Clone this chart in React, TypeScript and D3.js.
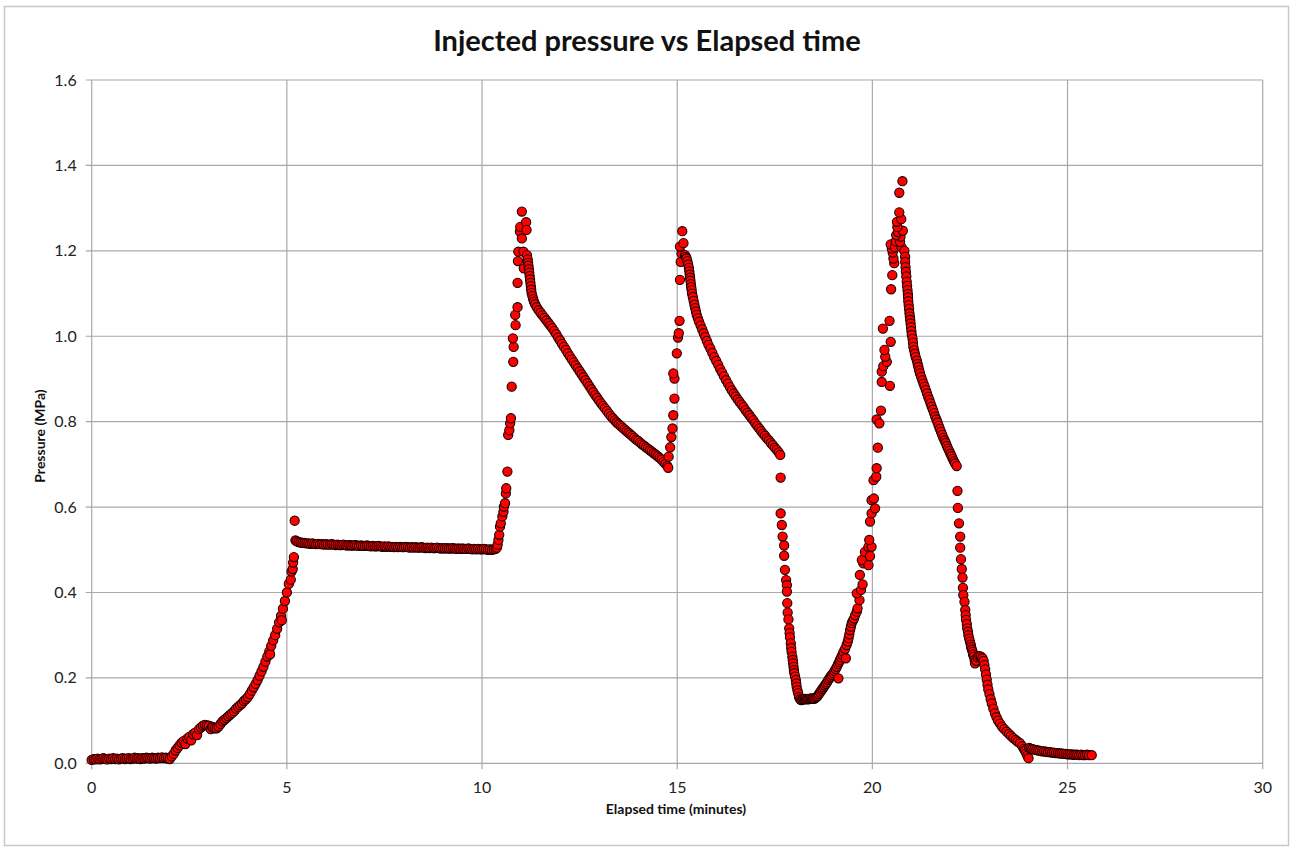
import React from 'react';
import * as d3 from 'd3';

type Pt = [number, number];

const titleText = 'Injected pressure vs Elapsed time';
const xAxisTitle = 'Elapsed time (minutes)';
const yAxisTitle = 'Pressure (MPa)';
const xTicks = [0, 5, 10, 15, 20, 25, 30];
const yTicks = [0, 0.2, 0.4, 0.6, 0.8, 1.0, 1.2, 1.4, 1.6];

const baseline: Pt[] = [
  [0.00,0.008],[0.05,0.010],[0.10,0.009],[0.15,0.011],[0.20,0.009],[0.25,0.010],[0.30,0.012],[0.35,0.010],[0.40,0.009],[0.45,0.011],
  [0.50,0.010],[0.55,0.012],[0.60,0.010],[0.65,0.011],[0.70,0.009],[0.75,0.011],[0.80,0.012],[0.85,0.010],[0.90,0.011],[0.95,0.012],
  [1.00,0.010],[1.05,0.011],[1.10,0.013],[1.15,0.011],[1.20,0.012],[1.25,0.010],[1.30,0.012],[1.35,0.011],[1.40,0.013],[1.45,0.012],
  [1.50,0.011],[1.55,0.013],[1.60,0.012],[1.65,0.011],[1.70,0.013],[1.75,0.012],[1.80,0.014],[1.85,0.012],[1.90,0.013],[1.95,0.011],
];

const ramp: Pt[] = [
  [2.00,0.010],[2.05,0.016],[2.10,0.022],[2.15,0.030],[2.20,0.036],[2.25,0.042],[2.30,0.048],[2.35,0.052],[2.40,0.045],[2.45,0.058],
  [2.50,0.062],[2.55,0.054],[2.60,0.068],[2.65,0.072],[2.70,0.066],[2.75,0.080],[2.80,0.084],[2.85,0.088],[2.90,0.090],[2.95,0.089],
  [3.00,0.088],[3.05,0.080],[3.08,0.086],[3.10,0.084],[3.15,0.082],[3.20,0.082],[3.25,0.086],[3.30,0.092],[3.35,0.098],[3.40,0.102],
  [3.45,0.106],[3.50,0.110],[3.55,0.114],[3.60,0.118],[3.65,0.122],[3.70,0.128],[3.75,0.132],[3.80,0.136],[3.85,0.140],[3.90,0.146],
  [3.95,0.150],[4.00,0.155],[4.05,0.162],[4.10,0.170],[4.15,0.178],[4.20,0.186],[4.25,0.195],[4.30,0.205],[4.35,0.215],[4.40,0.226],
  [4.45,0.238],[4.50,0.250],[4.55,0.262],[4.57,0.255],[4.60,0.275],[4.65,0.288],[4.70,0.300],[4.75,0.315],[4.80,0.330],[4.85,0.345],
  [4.87,0.335],[4.90,0.362],[4.95,0.380],[5.00,0.400],[5.05,0.420],[5.10,0.430],[5.12,0.449],[5.15,0.455],[5.16,0.470],[5.18,0.483],
  [5.20,0.568],
];

const plateau: Pt[] = [
  [5.22,0.522],[5.25,0.520],[5.30,0.518],[5.35,0.517],[5.40,0.516],[5.45,0.516],[5.50,0.515],[5.55,0.515],[5.60,0.514],[5.65,0.515],
  [5.70,0.514],[5.75,0.513],[5.80,0.514],[5.85,0.513],[5.90,0.513],[5.95,0.512],[6.00,0.513],[6.05,0.512],[6.10,0.512],[6.15,0.513],
  [6.20,0.512],[6.25,0.511],[6.30,0.512],[6.35,0.511],[6.40,0.511],[6.45,0.512],[6.50,0.511],[6.55,0.510],[6.60,0.511],[6.65,0.510],
  [6.70,0.510],[6.75,0.511],[6.80,0.510],[6.85,0.509],[6.90,0.510],[6.95,0.509],[7.00,0.509],[7.05,0.510],[7.10,0.509],[7.15,0.508],
  [7.20,0.509],[7.25,0.508],[7.30,0.508],[7.35,0.509],[7.40,0.508],[7.45,0.507],[7.50,0.508],[7.55,0.507],[7.60,0.508],[7.65,0.507],
  [7.70,0.507],[7.75,0.506],[7.80,0.507],[7.85,0.506],[7.90,0.507],[7.95,0.506],[8.00,0.506],[8.05,0.507],[8.10,0.506],[8.15,0.505],
  [8.20,0.506],[8.25,0.505],[8.30,0.506],[8.35,0.505],[8.40,0.505],[8.45,0.506],[8.50,0.505],[8.55,0.504],[8.60,0.505],[8.65,0.504],
  [8.70,0.505],[8.75,0.504],[8.80,0.504],[8.85,0.505],[8.90,0.504],[8.95,0.503],[9.00,0.504],[9.05,0.503],[9.10,0.504],[9.15,0.503],
  [9.20,0.503],[9.25,0.504],[9.30,0.503],[9.35,0.502],[9.40,0.503],[9.45,0.502],[9.50,0.503],[9.55,0.502],[9.60,0.502],[9.65,0.503],
  [9.70,0.502],[9.75,0.501],[9.80,0.502],[9.85,0.501],[9.90,0.502],[9.95,0.501],[10.00,0.501],[10.05,0.502],[10.10,0.501],[10.15,0.500],
  [10.20,0.501],[10.25,0.500],[10.30,0.501],
];

const rise1: Pt[] = [
  [10.35,0.502],[10.38,0.505],[10.40,0.512],[10.42,0.523],[10.44,0.535],[10.46,0.554],[10.48,0.562],[10.52,0.578],[10.55,0.589],[10.56,0.601],
  [10.59,0.609],[10.61,0.632],[10.62,0.644],[10.65,0.683],[10.67,0.769],[10.70,0.780],[10.72,0.796],[10.74,0.808],[10.76,0.882],[10.80,0.940],
  [10.81,0.975],[10.79,0.995],[10.86,1.026],[10.85,1.050],[10.91,1.068],[10.91,1.125],[10.92,1.176],[10.93,1.198],[10.97,1.245],[10.98,1.256],
  [11.02,1.229],[11.02,1.292],[11.06,1.198],[11.07,1.159],[11.13,1.267],[11.14,1.249],[11.15,1.190],
];

const decay1: Pt[] = [
  [11.17,1.180],[11.18,1.172],[11.19,1.165],[11.20,1.157],[11.21,1.149],[11.22,1.141],[11.23,1.133],[11.24,1.125],[11.25,1.117],[11.26,1.109],
  [11.27,1.101],[11.29,1.094],[11.31,1.087],[11.33,1.081],[11.36,1.075],[11.40,1.068],[11.45,1.061],[11.50,1.055],[11.55,1.049],[11.60,1.043],
  [11.65,1.037],[11.70,1.031],[11.75,1.025],[11.80,1.019],[11.85,1.012],[11.90,1.005],[11.95,0.997],[12.00,0.990],[12.05,0.982],[12.10,0.975],
  [12.15,0.968],[12.20,0.960],[12.25,0.953],[12.30,0.946],[12.35,0.939],[12.40,0.932],[12.45,0.925],[12.50,0.918],[12.55,0.911],[12.60,0.904],
  [12.65,0.897],[12.70,0.890],[12.75,0.883],[12.80,0.876],[12.85,0.869],[12.90,0.862],[12.95,0.856],[13.00,0.849],[13.05,0.843],[13.10,0.837],
  [13.15,0.831],[13.20,0.825],[13.25,0.819],[13.30,0.813],[13.35,0.808],[13.40,0.803],[13.45,0.798],[13.50,0.794],[13.55,0.790],[13.60,0.786],
  [13.65,0.782],[13.70,0.778],[13.75,0.774],[13.80,0.770],[13.85,0.766],[13.90,0.762],[13.95,0.758],[14.00,0.755],[14.05,0.751],[14.10,0.747],
  [14.15,0.744],[14.20,0.740],[14.25,0.737],[14.30,0.733],[14.35,0.730],[14.40,0.726],[14.45,0.723],[14.50,0.719],[14.55,0.715],[14.60,0.711],
  [14.65,0.706],[14.70,0.701],[14.75,0.696],[14.77,0.692],
];

const rise2: Pt[] = [
  [14.78,0.718],[14.82,0.740],[14.85,0.764],[14.88,0.784],[14.90,0.815],[14.93,0.854],[14.93,0.901],[14.90,0.913],[14.99,0.960],[15.02,0.997],
  [15.04,1.007],[15.06,1.036],[15.07,1.132],[15.09,1.174],[15.11,1.194],[15.07,1.210],[15.16,1.218],[15.13,1.246],
];

const decay2: Pt[] = [
  [15.20,1.190],[15.22,1.186],[15.24,1.182],[15.26,1.176],[15.28,1.168],[15.30,1.160],[15.31,1.152],[15.32,1.144],[15.33,1.137],[15.34,1.130],
  [15.35,1.122],[15.36,1.115],[15.37,1.108],[15.38,1.100],[15.40,1.092],[15.42,1.083],[15.44,1.074],[15.46,1.066],[15.48,1.058],[15.50,1.050],
  [15.53,1.042],[15.56,1.034],[15.60,1.025],[15.64,1.016],[15.68,1.007],[15.72,0.998],[15.76,0.989],[15.80,0.980],[15.85,0.971],[15.90,0.961],
  [15.95,0.951],[16.00,0.942],[16.05,0.933],[16.10,0.923],[16.15,0.915],[16.20,0.906],[16.25,0.897],[16.30,0.889],[16.35,0.881],[16.40,0.873],
  [16.45,0.866],[16.50,0.859],[16.55,0.852],[16.60,0.846],[16.65,0.840],[16.70,0.834],[16.75,0.827],[16.80,0.821],[16.85,0.815],[16.90,0.809],
  [16.95,0.803],[17.00,0.796],[17.05,0.790],[17.10,0.784],[17.15,0.778],[17.20,0.772],[17.25,0.767],[17.30,0.761],[17.35,0.756],[17.40,0.750],
  [17.45,0.745],[17.50,0.739],[17.55,0.734],[17.60,0.728],[17.64,0.722],
];

const trough: Pt[] = [
  [17.65,0.669],[17.65,0.585],[17.68,0.558],[17.70,0.531],[17.74,0.510],[17.74,0.486],[17.76,0.453],[17.79,0.429],[17.81,0.417],[17.81,0.402],
  [17.82,0.375],[17.83,0.353],[17.85,0.337],[17.87,0.316],[17.88,0.305],[17.89,0.295],[17.91,0.281],[17.92,0.270],[17.93,0.261],[17.95,0.250],
  [17.96,0.242],[17.97,0.234],[17.98,0.226],[17.99,0.218],[18.00,0.211],[18.02,0.203],[18.04,0.195],[18.05,0.187],[18.06,0.179],[18.08,0.171],
  [18.10,0.164],[18.12,0.155],[18.15,0.150],[18.18,0.148],[18.21,0.149],[18.24,0.150],[18.27,0.151],[18.30,0.150],[18.33,0.151],[18.36,0.150],
  [18.39,0.151],[18.42,0.152],[18.45,0.151],[18.48,0.152],[18.51,0.151],[18.54,0.153],[18.57,0.155],[18.60,0.158],[18.63,0.162],[18.66,0.166],
];

const rise3: Pt[] = [
  [18.69,0.170],[18.72,0.174],[18.75,0.178],[18.78,0.182],[18.81,0.186],[18.84,0.190],[18.87,0.195],[18.90,0.199],[18.93,0.203],[18.96,0.207],
  [19.00,0.211],[19.03,0.216],[19.06,0.221],[19.09,0.226],[19.13,0.199],[19.12,0.232],[19.15,0.237],[19.17,0.242],[19.20,0.248],[19.23,0.254],
  [19.26,0.261],[19.30,0.268],[19.32,0.246],[19.34,0.277],[19.37,0.285],[19.39,0.293],[19.41,0.302],[19.43,0.312],[19.45,0.320],[19.47,0.328],
  [19.50,0.334],[19.53,0.339],[19.56,0.347],[19.60,0.355],[19.62,0.363],[19.67,0.382],[19.60,0.398],[19.71,0.406],[19.75,0.419],[19.68,0.441],
  [19.77,0.468],[19.73,0.476],[19.81,0.495],[19.90,0.464],[19.94,0.485],[19.90,0.507],[19.98,0.507],[19.92,0.523],[19.94,0.566],[19.98,0.585],
  [20.07,0.597],[19.98,0.616],[20.04,0.620],[20.03,0.663],[20.10,0.671],[20.11,0.691],[20.14,0.739],[20.11,0.805],[20.18,0.796],[20.22,0.826],
  [20.45,0.884],[20.24,0.893],[20.24,0.917],[20.28,0.930],[20.37,0.940],[20.33,0.952],[20.31,0.968],[20.47,0.987],[20.27,1.018],[20.44,1.036],
  [20.48,1.110],[20.51,1.143],[20.56,1.171],[20.54,1.182],[20.52,1.196],[20.50,1.205],[20.47,1.215],[20.58,1.208],[20.60,1.222],[20.75,1.208],
  [20.71,1.221],[20.72,1.233],[20.61,1.237],[20.66,1.244],[20.78,1.247],[20.64,1.256],[20.63,1.268],[20.74,1.274],[20.69,1.290],[20.69,1.336],
  [20.77,1.363],
];

const decay3: Pt[] = [
  [20.82,1.200],[20.84,1.186],[20.84,1.174],[20.85,1.162],[20.86,1.151],[20.87,1.140],[20.88,1.128],[20.89,1.118],[20.90,1.108],[20.91,1.099],
  [20.915,1.091],[20.92,1.082],[20.93,1.073],[20.94,1.064],[20.95,1.054],[20.96,1.046],[20.97,1.038],[20.98,1.030],[20.99,1.021],[21.00,1.012],
  [21.01,1.003],[21.03,0.994],[21.04,0.985],[21.05,0.975],[21.07,0.967],[21.09,0.959],[21.11,0.951],[21.14,0.943],[21.16,0.935],[21.18,0.928],
  [21.20,0.920],[21.22,0.913],[21.25,0.905],[21.28,0.897],[21.31,0.889],[21.34,0.882],[21.37,0.874],[21.40,0.866],[21.43,0.858],[21.46,0.851],
  [21.49,0.843],[21.52,0.835],[21.55,0.828],[21.58,0.820],[21.61,0.812],[21.64,0.805],[21.67,0.798],[21.70,0.790],[21.73,0.783],[21.76,0.776],
  [21.79,0.769],[21.82,0.762],[21.85,0.756],[21.88,0.750],[21.91,0.743],[21.94,0.737],[21.97,0.731],[22.00,0.725],[22.03,0.719],[22.06,0.713],
  [22.09,0.707],[22.12,0.702],[22.16,0.696],
];

const fall3: Pt[] = [
  [22.18,0.638],[22.19,0.598],[22.22,0.562],[22.25,0.531],[22.25,0.505],[22.27,0.478],[22.29,0.455],[22.31,0.435],[22.32,0.411],[22.33,0.394],
  [22.36,0.378],[22.38,0.359],[22.39,0.347],[22.40,0.336],[22.42,0.326],[22.43,0.316],[22.45,0.308],[22.46,0.300],[22.48,0.292],[22.50,0.285],
  [22.52,0.278],[22.53,0.272],[22.55,0.266],[22.57,0.261],[22.58,0.255],[22.60,0.250],[22.62,0.242],[22.63,0.234],[22.66,0.240],[22.70,0.248],
  [22.74,0.251],[22.78,0.250],[22.82,0.246],[22.85,0.240],[22.87,0.230],[22.89,0.220],[22.91,0.208],[22.93,0.196],[22.95,0.184],[22.97,0.173],
  [23.00,0.162],[23.03,0.150],[23.06,0.140],[23.10,0.128],[23.14,0.117],[23.18,0.108],[23.22,0.100],[23.27,0.093],[23.32,0.086],[23.38,0.080],
  [23.44,0.074],[23.50,0.069],[23.55,0.064],[23.61,0.059],[23.67,0.055],[23.72,0.051],[23.78,0.047],[23.84,0.040],[23.88,0.034],[23.91,0.030],
  [23.94,0.024],[23.97,0.018],[24.00,0.012],
];

const tail: Pt[] = [
  [24.02,0.036],[24.06,0.034],[24.10,0.033],[24.15,0.032],[24.20,0.031],[24.25,0.030],[24.30,0.029],[24.35,0.028],[24.40,0.028],[24.45,0.027],
  [24.50,0.026],[24.55,0.026],[24.60,0.025],[24.65,0.025],[24.70,0.024],[24.75,0.024],[24.80,0.023],[24.85,0.023],[24.90,0.022],[24.95,0.022],
  [25.00,0.021],[25.05,0.021],[25.10,0.021],[25.15,0.020],[25.20,0.020],[25.25,0.020],[25.30,0.019],[25.35,0.020],[25.40,0.019],[25.45,0.019],
  [25.50,0.020],[25.55,0.019],[25.62,0.019],
];

const allPoints: Pt[] = [
  ...baseline, ...ramp, ...plateau, ...rise1, ...decay1, ...rise2, ...decay2,
  ...trough, ...rise3, ...decay3, ...fall3, ...tail,
];

const FONT = 'Lato, "Open Sans", sans-serif';

export default function App() {
  const W = 1291;
  const H = 852;
  const left = 91.7, right = 1262.7, top = 80, bottom = 763.3;
  const x = d3.scaleLinear().domain([0, 30]).range([left, right]);
  const y = d3.scaleLinear().domain([0, 1.6]).range([bottom, top]);
  const grid = '#a9a9a9';

  return (
    <svg width={W} height={H} style={{ position: 'absolute', left: 0, top: 0, background: '#fff' }}>
      <rect x={0} y={0} width={W} height={H} fill="#fff" />
      <rect x={4.5} y={6.5} width={1284} height={839} fill="none" stroke="#c8c8c8" strokeWidth={1.5} />
      <text x={647} y={51} textAnchor="middle" fontFamily={FONT} fontWeight={700} fontSize={29} fill="#111">{titleText}</text>
      {yTicks.map((t) => (
        <g key={'y' + t}>
          <line x1={left - 6} x2={right} y1={y(t)} y2={y(t)} stroke={grid} strokeWidth={1.2} />
          <text x={left - 15} y={y(t)} dy="0.35em" textAnchor="end" fontFamily={FONT} fontSize={16} fill="#222">{t.toFixed(1)}</text>
        </g>
      ))}
      {xTicks.map((t) => (
        <g key={'x' + t}>
          <line x1={x(t)} x2={x(t)} y1={top} y2={bottom + 6} stroke={grid} strokeWidth={1.2} />
          <text x={x(t)} y={bottom + 24} dy="0.35em" textAnchor="middle" fontFamily={FONT} fontSize={16} fill="#222">{t}</text>
        </g>
      ))}
      <text x={676} y={814} textAnchor="middle" fontFamily={FONT} fontWeight={700} fontSize={14} fill="#111">{xAxisTitle}</text>
      <text transform={`translate(45,436) rotate(-90)`} textAnchor="middle" fontFamily={FONT} fontWeight={700} fontSize={14} fill="#111">{yAxisTitle}</text>
      <g>
        {allPoints.map((p, i) => (
          <circle key={i} cx={x(p[0])} cy={y(p[1])} r={4.6} fill="#ff0000" stroke="#1c0000" strokeWidth={1.1} />
        ))}
      </g>
    </svg>
  );
}
